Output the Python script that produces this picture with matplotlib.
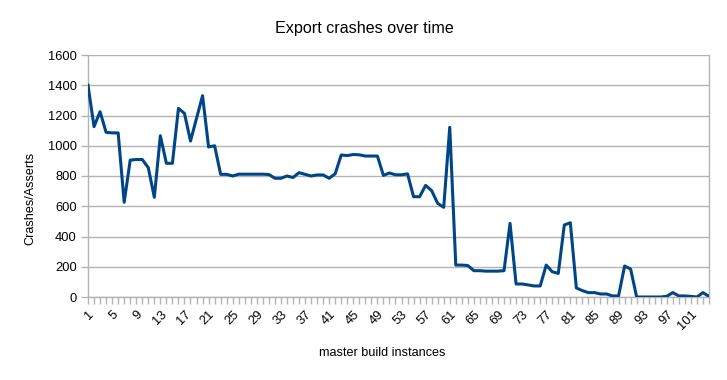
import matplotlib
matplotlib.use("Agg")
import matplotlib.pyplot as plt
import numpy as np

# crash counts per master build instance
crashes = [
    1400, 1126, 1225, 1089, 1085, 1085, 626, 905, 909, 909,
    855, 659, 1066, 884, 884, 1247, 1214, 1031, 1181, 1331,
    992, 1000, 811, 811, 800, 812, 812, 812, 812, 812,
    810, 785, 785, 800, 790, 822, 811, 800, 807, 807,
    785, 815, 939, 935, 942, 940, 932, 932, 932, 804,
    820, 808, 808, 814, 663, 663, 738, 703, 619, 593,
    1122, 211, 211, 208, 174, 174, 171, 171, 171, 174,
    487, 86, 86, 80, 73, 73, 211, 167, 156, 476,
    491, 60, 42, 29, 29, 20, 20, 7, 7, 205,
    185, 0, 0, 0, 0, 0, 5, 29, 7, 7,
    4, 0, 29, 4,
]
builds = np.arange(1, len(crashes) + 1)
tick_builds = list(range(1, 102, 4))

W, H = 727, 380

def main():
    plt.rcParams["font.family"] = ["Liberation Sans", "DejaVu Sans"]
    fig = plt.figure(figsize=(W / 100, H / 100), dpi=100)
    ax = fig.add_axes([88 / W, 83 / H, 621 / W, 242 / H])

    ax.plot(builds, crashes, color="#004586", linewidth=2.2,
            solid_joinstyle="round", zorder=3)

    ax.set_xlim(1, len(crashes))
    ax.set_ylim(0, 1600)
    ax.set_yticks(range(0, 1601, 200))
    ax.set_xticks(builds, minor=True)
    ax.set_xticks(tick_builds)
    ax.set_xticklabels([str(t) for t in tick_builds], rotation=45,
                       ha="right", va="top", rotation_mode="anchor")

    ax.grid(axis="y", color="#b3b3b3", linewidth=1.0)
    ax.set_axisbelow(True)
    for s in ["left", "bottom", "right"]:
        ax.spines[s].set_color("#b3b3b3")
        ax.spines[s].set_linewidth(1.0)
    ax.spines["top"].set_visible(False)
    ax.tick_params(axis="both", which="both", color="#b3b3b3", length=5,
                   width=1.0, labelsize=9.3, labelcolor="black")
    ax.tick_params(axis="x", which="both", pad=3)
    ax.tick_params(axis="y", pad=3)

    # titles placed where the reference has them
    fig.text(364 / W, 1 - 28 / H, "Export crashes over time",
             fontsize=11.6, ha="center", va="center")
    fig.text(382 / W, 1 - 353 / H, "master build instances",
             fontsize=9.1, ha="center", va="center")
    fig.text(30 / W, 1 - 198 / H, "Crashes/Asserts", rotation=90,
             fontsize=9.1, ha="center", va="center")

    fig.savefig("out.png", dpi=100)
    plt.close(fig)


if __name__ == "__main__":
    main()
